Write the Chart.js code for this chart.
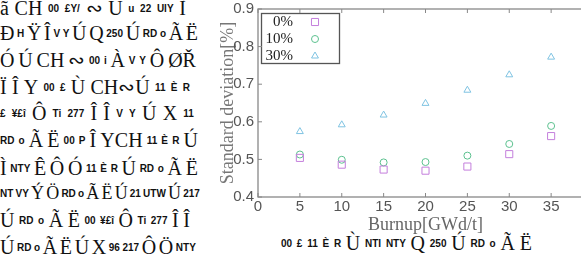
<!DOCTYPE html>
<html>
<head>
<meta charset="utf-8">
<script src="https://cdn.jsdelivr.net/npm/chart.js@4"></script>
<style>
  html, body { margin: 0; padding: 0; width: 581px; height: 259px; overflow: hidden; background: #fff; }
  #txt { position: absolute; left: 0; top: 0; width: 581px; height: 259px; z-index: 0; }
  #txt div { position: absolute; left: 0; width: 198px; display: flex; justify-content: space-between; align-items: center;
             white-space: nowrap; font-family: "Liberation Serif", serif; font-size: 20px; color: #111; height: 22px; }
  #txt b { font-family: "Liberation Sans Narrow", "Liberation Sans", sans-serif; font-size: 10px; }
  #wrap { position: absolute; left: 200px; top: -4px; width: 399px; height: 238px; z-index: 1; }
</style>
</head>
<body>
<div id="txt"></div>
<div id="wrap"><canvas id="myChart" width="399" height="238"></canvas></div>
<script>
/*               scanned page text + burnup scatter chart                 */

const burnup = [5, 10, 15, 20, 25, 30, 35];
const dev0 = [0.504, 0.486, 0.473, 0.470, 0.481, 0.514, 0.562];
const dev10 = [0.513, 0.499, 0.492, 0.493, 0.510, 0.541, 0.589];
const dev30 = [0.574, 0.592, 0.618, 0.649, 0.684, 0.725, 0.772];
const seriesLabels = ['0%', '10%', '30%'];

// garbled text of the scanned page ("_" = small bold glyph)
const textLines = [
  ['ã', 'CH', '_00', '_£Y/', '∾', 'Ú', '_u', '_22', '_UlY', 'Ĩ'],
  ['Ð', '_H', 'Ÿ', 'Î', '_V', '_Y', 'Ú', 'Q', '_250', 'Ú', '_RD', '_o', 'Ã', 'Ë'],
  ['Ó', 'Ú', 'CH', '∾', '_00', '_i', 'À', '_V', '_Y', 'Ô', 'ØŘ'],
  ['Ï', 'Î', 'Y', '_00', '_£', 'Ù', 'CH∾Ú', '_11', '_È', '_R'],
  ['_£', '_¥£î', 'Ô', '_Ti', '_277', 'Î', 'Î', '_V', '_Y', 'Ú', 'X', '_11'],
  ['_RD', '_o', 'Ã', 'Ë', '_00', '_P', 'Î', 'YCH', '_11', '_È', '_R', 'Ú'],
  ['Ì', '_NTY', 'Ê', 'Ô', 'Ó', '_11', '_È', '_R', 'Ú', '_RD', '_o', 'Ã', 'Ë'],
  ['_NT', '_VY', 'Ý', 'Ö', '_RD', '_o', 'Ã', 'Ë', 'Ú', '_21', '_UTW', 'Ú', '_217'],
  ['Ú', '_RD', '_o', 'Ã', 'Ë', '_00', '_¥£î', 'Ô', '_Ti', '_277', 'Î', 'Î'],
  ['Ú', '_RD', '_o', 'Ã', 'Ë', 'Ú', 'X', '_96', '_217', 'Ô', 'Ö', '_NTY']
];
const captionLine = ['_00', '_£', '_11', '_È', '_R', 'Ù', '_NTI', '_NTY', 'Q', '_250', 'Ú', '_RD', '_o', 'Ã', 'Ë'];
const lineTops = [-3, 22, 49, 76, 102, 129, 157, 182, 209, 236];
const lineWidths = [186, 198, 196, 190, 194, 198, 198, 200, 190, 196];
const lineSizes = [20, 20, 20, 20, 20, 20, 20, 18, 20, 20];

function makeLine(tokens, left, top, width, size) {
  let d = document.createElement('div');
  d.style.left = left + 'px';
  d.style.top = top + 'px';
  d.style.width = width + 'px';
  d.style.fontSize = size + 'px';
  tokens.forEach(t => {
    let el;
    if (t[0] === '_') { el = document.createElement('b'); el.textContent = t.slice(1); }
    else { el = document.createElement('span'); el.textContent = t; }
    d.appendChild(el);
  });
  document.getElementById('txt').appendChild(d);
}
textLines.forEach((l, i) => makeLine(l, 0, lineTops[i], lineWidths[i], lineSizes[i]));
makeLine(captionLine, 281, 232, 251, 20);

// legend in a box, labels right aligned, marker on the right
const boxLegend = {
  id: 'boxLegend',
  afterDraw(chart) {
    const c = chart.ctx, a = chart.chartArea;
    c.save();
    c.strokeStyle = '#555';
    c.lineWidth = 1.3;
    c.strokeRect(a.left + 3.5, a.top + 4.5, 78, 50);
    c.font = '15px "Liberation Serif"';
    c.textAlign = 'right';
    c.textBaseline = 'middle';
    chart.data.datasets.forEach((ds, i) => {
      const y = a.top + 13 + i * 17;
      c.fillStyle = '#222';
      c.fillText(ds.label, a.left + 35, y);
      c.strokeStyle = ds.borderColor;
      c.fillStyle = 'rgba(0,0,0,0)';
      c.lineWidth = 1;
      Chart.helpers.drawPoint(c, { pointStyle: ds.pointStyle, radius: ds.pointRadius, borderWidth: 1 }, a.left + 57, y);
    });
    c.restore();
  }
};

// frame with inward ticks
const frame = {
  id: 'frame',
  afterDraw(chart) {
    const c = chart.ctx, a = chart.chartArea;
    const x = chart.scales.x, y = chart.scales.y;
    c.save();
    c.strokeStyle = '#888';
    c.lineWidth = 1.3;
    c.strokeRect(a.left, a.top, a.right - a.left, a.bottom - a.top);
    c.lineWidth = 1;
    c.beginPath();
    x.ticks.forEach(t => {
      const px = x.getPixelForValue(t.value);
      c.moveTo(px, a.bottom); c.lineTo(px, a.bottom - 4);
      c.moveTo(px, a.top); c.lineTo(px, a.top + 4);
    });
    y.ticks.forEach(t => {
      const py = y.getPixelForValue(t.value);
      c.moveTo(a.left, py); c.lineTo(a.left + 4, py);
    });
    c.stroke();
    c.restore();
  }
};

function pts(vals) {
  return burnup.map((b, i) => ({ x: b, y: vals[i] }));
}

let ctx = document.getElementById('myChart').getContext('2d');
var chart = new Chart(ctx, {
  type: 'scatter',
  data: {
    datasets: [{
      label: seriesLabels[0],
      data: pts(dev0),
      pointStyle: 'rect',
      pointRadius: 5,
      borderColor: '#c47fdc',
      backgroundColor: 'rgba(0,0,0,0)',
      borderWidth: 1
    }, {
      label: seriesLabels[1],
      data: pts(dev10),
      pointStyle: 'circle',
      pointRadius: 3.5,
      borderColor: '#5cc18f',
      backgroundColor: 'rgba(0,0,0,0)',
      borderWidth: 1
    }, {
      label: seriesLabels[2],
      data: pts(dev30),
      pointStyle: 'triangle',
      pointRadius: 4,
      borderColor: '#7fc3e2',
      backgroundColor: 'rgba(0,0,0,0)',
      borderWidth: 1
    }]
  },
  options: {
    responsive: false,
    animation: false,
    devicePixelRatio: 1,
    layout: { padding: { top: 4, right: 0, left: 0, bottom: 0 } },
    plugins: { legend: { display: false }, tooltip: { enabled: false } },
    scales: {
      x: {
        type: 'linear',
        min: 0,
        max: 40,
        grid: { display: false, drawTicks: false },
        border: { display: false },
        ticks: {
          stepSize: 5,
          padding: 2,
          color: '#555',
          font: { family: 'Liberation Sans', size: 15, lineHeight: 1 },
          callback: v => (v === 40 ? '' : v)
        },
        title: {
          display: true,
          text: 'Burnup[GWd/t]',
          color: '#666',
          padding: 0,
          font: { family: 'Liberation Serif', size: 18, lineHeight: 1 }
        }
      },
      y: {
        min: 0.4,
        max: 0.9,
        afterFit: s => { s.width = 58; },
        grid: { display: false, drawTicks: false },
        border: { display: false },
        ticks: {
          stepSize: 0.1,
          padding: 4,
          color: '#555',
          font: { family: 'Liberation Sans', size: 15 },
          callback: v => v.toFixed(1)
        },
        title: {
          display: true,
          text: 'Standard deviation[%]',
          color: '#777',
          padding: { top: 17, bottom: 0 },
          font: { family: 'Liberation Serif', size: 18 }
        }
      }
    }
  },
  plugins: [boxLegend, frame]
});
</script>
</body>
</html>
